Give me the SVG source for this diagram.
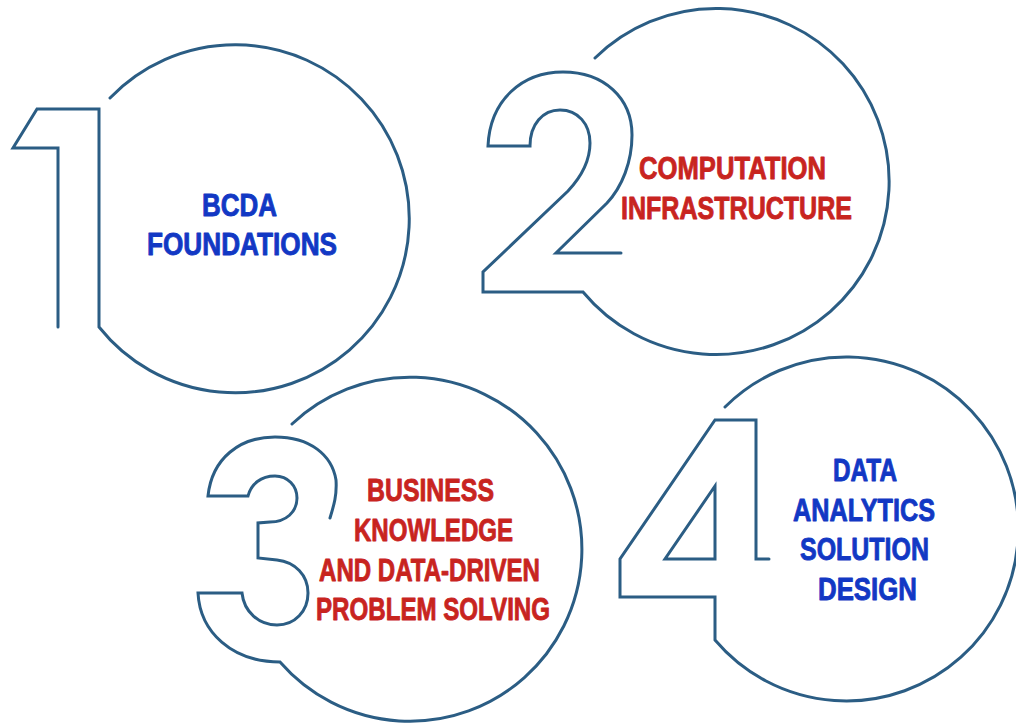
<svg xmlns="http://www.w3.org/2000/svg" width="1016" height="723" viewBox="0 0 1016 723">
<style>
.ol{fill:none;stroke:#2b5d84;stroke-width:3;stroke-linecap:round;stroke-linejoin:miter}
.t{font-family:"Liberation Sans",Arial,sans-serif;font-weight:bold;font-size:32px;stroke-width:0.9;stroke-linejoin:round}
.b{fill:#1238c4;stroke:#1238c4}
.r{fill:#c8241f;stroke:#c8241f}
</style>
<rect width="1016" height="723" fill="#ffffff"/>
<g id="node1">
<path class="ol" d="M58 327 L58 148 L13 148 L37 109 L99 109 L99 327 A174 174 0 1 0 110 98"/>
<text class="t b" x="202" y="216" textLength="75" lengthAdjust="spacingAndGlyphs">BCDA</text>
<text class="t b" x="147" y="255" textLength="190" lengthAdjust="spacingAndGlyphs">FOUNDATIONS</text>
</g>
<g id="node2">
<path class="ol" d="M621 253 L556 253 L607 203 C622 187 632 162 632 135 C632 98 604 72 563 72 C522 72 490 100 488 146 L530 146 C530 124 543 110 560 110 C578 110 590 124 590 143 C590 160 582 176 568 191 L483 272 L483 292 L583 292 A173 173 0 1 0 595 58"/>
<text class="t r" x="639" y="179" textLength="187" lengthAdjust="spacingAndGlyphs">COMPUTATION</text>
<text class="t r" x="621" y="219" textLength="231" lengthAdjust="spacingAndGlyphs">INFRASTRUCTURE</text>
</g>
<g id="node3">
<path class="ol" d="M330 518 C334 505 337 495 336 480 C332 455 310 437 275 437 C240 437 212 458 208 496 L248 496 C251 484 261 476 275 476 C288 476 297 486 297 498 C297 512 286 522 270 522 L258 523 L258 558 L277 560 C295 562 308 575 308 593 C308 611 295 625 277 625 C259 625 244 612 242 593 L198 593 C200 632 232 662 280 662 A172 172 0 1 0 292 424"/>
<text class="t r" x="367" y="501" textLength="127" lengthAdjust="spacingAndGlyphs">BUSINESS</text>
<text class="t r" x="354" y="541" textLength="159" lengthAdjust="spacingAndGlyphs">KNOWLEDGE</text>
<text class="t r" x="319" y="581" textLength="221" lengthAdjust="spacingAndGlyphs">AND DATA-DRIVEN</text>
<text class="t r" x="316" y="620" textLength="234" lengthAdjust="spacingAndGlyphs">PROBLEM SOLVING</text>
</g>
<g id="node4">
<path class="ol" d="M769 559 L756 559 L756 420 L715 420 L620 559 L620 597 L715 597 L715 640 A172 172 0 1 0 725 407"/>
<path class="ol" d="M715 486 L715 559 L665 559 Z"/>
<text class="t b" x="833" y="481" textLength="64" lengthAdjust="spacingAndGlyphs">DATA</text>
<text class="t b" x="793" y="521" textLength="142" lengthAdjust="spacingAndGlyphs">ANALYTICS</text>
<text class="t b" x="800" y="560" textLength="129" lengthAdjust="spacingAndGlyphs">SOLUTION</text>
<text class="t b" x="818" y="600" textLength="99" lengthAdjust="spacingAndGlyphs">DESIGN</text>
</g>
<g id="connectors"/>
</svg>
